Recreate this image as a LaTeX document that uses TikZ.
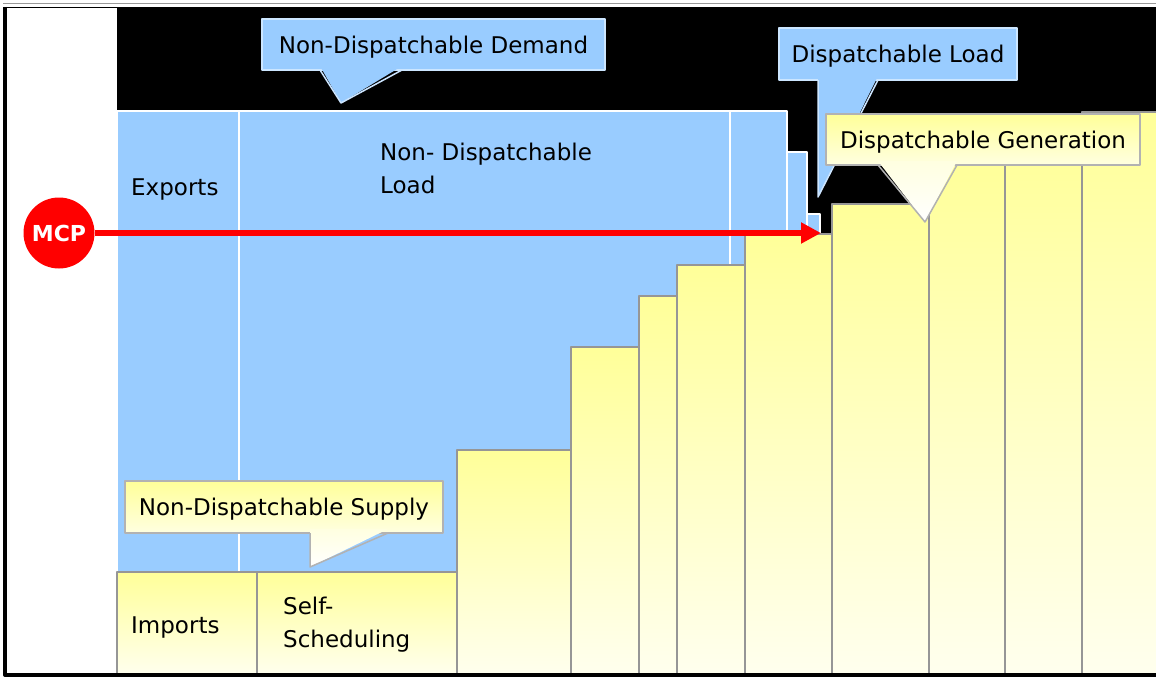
\documentclass[tikz,border=0pt]{standalone}
\usepackage{fontspec}
\setmainfont{DejaVu Sans}
\usetikzlibrary{arrows.meta}
\definecolor{loadblue}{RGB}{153,204,255}
\definecolor{genyellow}{RGB}{255,255,153}
\definecolor{genpale}{RGB}{255,255,238}
\definecolor{barline}{RGB}{150,150,150}
\begin{document}
\begin{tikzpicture}[x=1pt,y=-1pt,>={Triangle[length=20pt,width=20pt]},line join=round,
  font=\fontsize{23}{33}\selectfont,
  loadcol/.style={fill=loadblue,draw=white,line width=1.5pt},
  genbar/.style={top color=genyellow,bottom color=genpale,draw=barline,line width=1.5pt},
  bluetag/.style={fill=loadblue,draw=loadblue!50!white,line width=1.5pt,inner sep=0pt,text depth=0pt},
  yellowtag/.style={top color=genyellow,bottom color=genyellow!30!white,draw=black!30,line width=1.5pt,inner sep=0pt,text depth=0pt},
  txt/.style={inner sep=0pt,align=left}]
\useasboundingbox (0,0) rectangle (1156,677);
\fill (117,7) rectangle (1157,675);
% demand side
\foreach \xa/\xb/\ytop in {117/239/111,239/730/111,730/787/111,787/807/152,807/820/214}
  \path[loadcol] (\xa,\ytop) rectangle (\xb,675);
% supply stack
\foreach \xa/\xb/\ytop in {117/257/572,257/457/572,457/571/450,571/639/347,639/677/296,677/745/265,
  745/832/234,832/929/204,929/1005/160,1005/1082/140,1082/1158/112}
  \path[genbar] (\xa,\ytop) rectangle (\xb,675);
\node[txt,anchor=west] (exports) at (131,190) {Exports};
\node[txt,anchor=north west] (ndload) at (380,143) {Non- Dispatchable\\Load};
\node[txt,anchor=west] (imports) at (131,628) {Imports};
\node[txt,anchor=north west] (selfsched) at (283,597) {Self-\\Scheduling};
% callouts
\node[bluetag,minimum width=343pt,minimum height=51pt] (demand) at (433.5,44.5) {Non-Dispatchable Demand};
\fill[loadblue] (320,66) -- (341,103) -- (402,66) -- cycle;
\draw[loadblue!50!white,line width=1.5pt] (320,70) -- (341,103) -- (402,70);
\node[bluetag,minimum width=238pt,minimum height=52pt] (dload) at (898,54) {Dispatchable Load};
\fill[loadblue] (818,76) -- (818,197) -- (878,76) -- cycle;
\draw[loadblue!50!white,line width=1.5pt] (818,80) -- (818,197) -- (878,80);
\node[yellowtag,minimum width=314pt,minimum height=51pt] (dgen) at (983,139.5) {Dispatchable Generation};
\shade[top color=genyellow!30!white,bottom color=white] (878,161) -- (925,222) -- (957,161) -- cycle;
\draw[black!30,line width=1.5pt] (878,165) -- (925,222) -- (957,165);
\node[yellowtag,minimum width=318pt,minimum height=52pt] (ndsupply) at (284,507) {Non-Dispatchable Supply};
\shade[top color=genyellow!30!white,bottom color=white] (310,529) -- (310,567) -- (388,529) -- cycle;
\draw[black!30,line width=1.5pt] (310,533) -- (310,567) -- (388,533);
% price line
\node[circle,fill=red,minimum size=71pt,inner sep=0pt,text=white,font=\fontsize{22}{26}\selectfont\bfseries] (mcp) at (59,233) {MCP};
\coordinate (mcpend) at (821,233);
\draw[->,red,line width=6.5pt] (mcp) -- (mcpend);
% frame
\draw[black!40,line width=1pt] (3,3.5) -- (1156,3.5);
\draw[line width=1.5pt] (5,7.5) -- (1157,7.5);
\draw[line width=4pt] (5,7) -- (5,675) -- (1157,675);
\end{tikzpicture}
\end{document}
